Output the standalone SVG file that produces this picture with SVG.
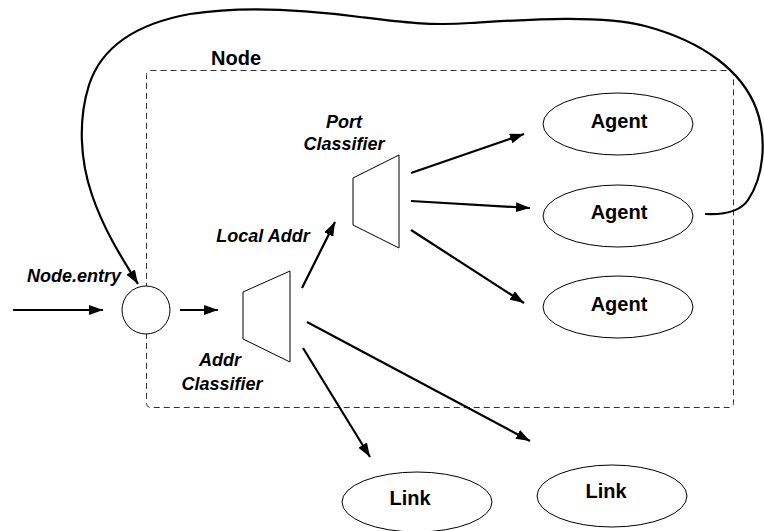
<svg xmlns="http://www.w3.org/2000/svg" width="764" height="531" viewBox="0 0 764 531">
<style>
.lbl{font-family:"Liberation Sans",Arial,sans-serif;font-weight:bold;font-size:20px;fill:#000;text-anchor:middle}
.it{font-family:"Liberation Sans",Arial,sans-serif;font-weight:bold;font-style:italic;font-size:18px;fill:#000;text-anchor:middle}
.shape{fill:#fff;stroke:#000;stroke-width:1}
.edge{fill:none;stroke:#000;stroke-width:2.2}
</style>
<defs>
<marker id="ah" markerUnits="userSpaceOnUse" markerWidth="15" markerHeight="10" refX="14" refY="5" orient="auto">
<path d="M0,0 L14,5 L0,10 z" fill="#000"/>
</marker>
</defs>
<g id="node-box">
<rect x="146.5" y="70.5" width="587" height="337" rx="4" fill="none" stroke="#333" stroke-width="1" stroke-dasharray="6 4"/>
<text class="lbl" x="236" y="65">Node</text>
</g>
<g id="entry">
<circle class="shape" cx="146" cy="310" r="24"/>
<text class="it" x="74" y="282">Node.entry</text>
</g>
<g id="addr-classifier">
<polygon class="shape" stroke="#555" points="243,292 290,271 290,362 243,339"/>
<text class="it" x="220" y="366">Addr</text>
<text class="it" x="222" y="390">Classifier</text>
</g>
<g id="port-classifier">
<polygon class="shape" points="353,178 399,155 399,248 353,225"/>
<text class="it" x="344" y="128">Port</text>
<text class="it" x="344" y="150">Classifier</text>
</g>
<g id="agent1">
<ellipse class="shape" cx="618" cy="124" rx="75" ry="31"/>
<text class="lbl" x="619" y="128">Agent</text>
</g>
<g id="agent2">
<ellipse class="shape" cx="618" cy="216" rx="75" ry="31"/>
<text class="lbl" x="619" y="219">Agent</text>
</g>
<g id="agent3">
<ellipse class="shape" cx="618" cy="307" rx="75" ry="31"/>
<text class="lbl" x="619" y="311">Agent</text>
</g>
<g id="link1">
<ellipse class="shape" cx="417" cy="502" rx="75" ry="30"/>
<text class="lbl" x="410" y="505">Link</text>
</g>
<g id="link2">
<ellipse class="shape" cx="612" cy="496" rx="75" ry="31"/>
<text class="lbl" x="606" y="498">Link</text>
</g>
<g id="connectors">
<line class="edge" x1="13" y1="310" x2="103" y2="310" marker-end="url(#ah)"/>
<line class="edge" x1="180" y1="310" x2="218" y2="310" marker-end="url(#ah)"/>
<line class="edge" x1="302" y1="288" x2="335" y2="222" marker-end="url(#ah)"/>
<text class="it" x="263" y="242">Local Addr</text>
<line class="edge" x1="411" y1="173" x2="524" y2="134" marker-end="url(#ah)"/>
<line class="edge" x1="411" y1="201" x2="530" y2="208" marker-end="url(#ah)"/>
<line class="edge" x1="411" y1="230" x2="524" y2="303" marker-end="url(#ah)"/>
<line class="edge" x1="307" y1="322" x2="530" y2="441" marker-end="url(#ah)"/>
<line class="edge" x1="303" y1="348" x2="370" y2="457" marker-end="url(#ah)"/>
<path class="edge" d="M 705 214 C 725 215, 740 212, 748 200 C 763 178, 768 140, 756 108 C 742 72, 705 42, 645 26 C 600 14, 520 20, 470 23 C 430 26, 400 22, 360 17 C 300 9, 240 6, 190 14 C 140 23, 102 45, 89 85 C 78 120, 80 160, 92 195 C 104 230, 120 255, 138 284" marker-end="url(#ah)"/>
</g>
</svg>
